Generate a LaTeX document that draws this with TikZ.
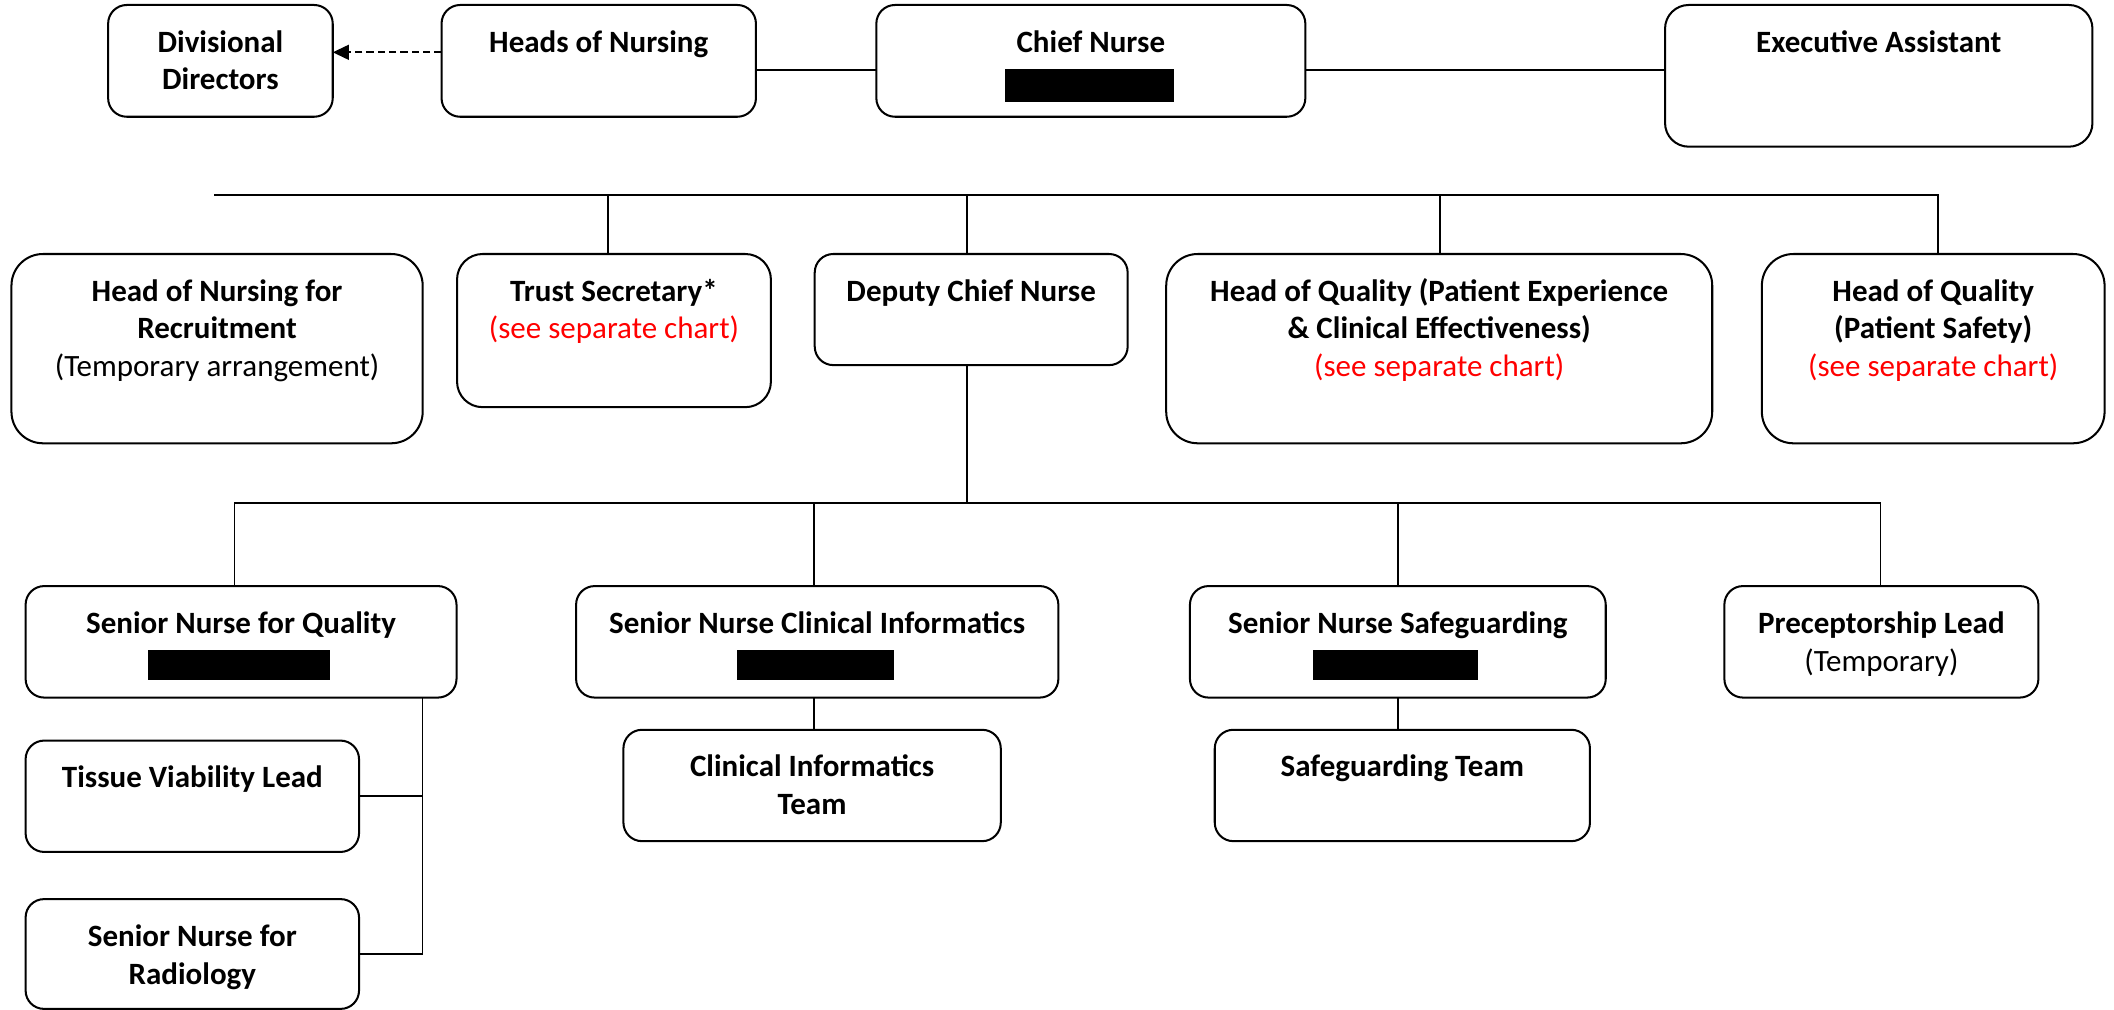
\documentclass[tikz,border=0pt]{standalone}
\usepackage{fontspec}
\setmainfont{Carlito}
\usetikzlibrary{arrows.meta,calc}
\definecolor{chartred}{RGB}{255,0,0}
\tikzset{
  obox/.style={draw=black, line width=1.5pt, fill=white, inner sep=0pt, outer sep=0pt},
  otext/.style={inner sep=0pt, outer sep=0pt, align=center, font=\fontsize{23}{28}\selectfont\bfseries},
  redact/.style={fill=black, draw=none, inner sep=0pt, outer sep=0pt},
  conn/.style={draw=black, line width=1.2pt},
  dotarrow/.style={draw=black, line width=1.6pt, dash pattern=on 5.4pt off 3pt, -{Triangle[length=12pt,width=11pt]}},
}
% name, x1, y1, x2, y2, text
\newcommand\orgbox[6]{%
  \pgfmathsetmacro\orgrr{0.1667*min(#4-#2,#5-#3)}%
  \node[obox, rounded corners=\orgrr pt, minimum width={#4-#2}, minimum height={#5-#3}, anchor=north west] (#1) at (#2,#3) {};
  \node[otext, anchor=north] (#1-t) at ([yshift=-15.4pt]#1.north) {\strut#6};
}
\newcommand\redbar[5]{%
  \node[redact, minimum width={#4-#2}, minimum height={#5-#3}, anchor=north west] (#1) at (#2,#3) {};
}
\newcommand\seechart{{\mdseries\color{chartred}(see separate chart)}}
\begin{document}
\begin{tikzpicture}[x=1pt,y=-1pt]
\useasboundingbox (0,0) rectangle (1568,749.1);
% top row
\orgbox{dd}{80.2}{3.7}{246.8}{86.6}{Divisional\\Directors}
\orgbox{hon}{327.5}{3.7}{560.7}{86.6}{Heads of Nursing}
\orgbox{cn}{650}{3.7}{968.2}{86.6}{Chief Nurse}
\redbar{cnr}{745.6}{51.2}{871}{75.4}
\orgbox{ea}{1235}{3.7}{1552}{108.8}{Executive Assistant}
% second row
\orgbox{hnr}{8.5}{188.4}{313.5}{328.8}{Head of Nursing for\\Recruitment\\{\mdseries(Temporary arrangement)}}
\orgbox{ts}{339}{188.4}{571.8}{302}{Trust Secretary*\\\seechart}
\orgbox{dcn}{604.3}{188.4}{836.4}{270.8}{Deputy Chief Nurse}
\orgbox{hqe}{865}{188.4}{1270}{328.8}{Head of Quality (Patient Experience\\\& Clinical Effectiveness)\\\seechart}
\orgbox{hqs}{1306.8}{188.4}{1561}{328.8}{Head of Quality\\(Patient Safety)\\\seechart}
% third row
\orgbox{snq}{19}{434.7}{338.6}{517.4}{Senior Nurse for Quality}
\redbar{snqr}{110}{482.2}{244.8}{504.2}
\orgbox{snci}{427.3}{434.7}{785}{517.4}{Senior Nurse Clinical Informatics}
\redbar{sncir}{546.7}{482.2}{663}{504.2}
\orgbox{sns}{882.6}{434.7}{1191}{517.4}{Senior Nurse Safeguarding}
\redbar{snsr}{973.8}{482.2}{1096.5}{504.2}
\orgbox{pl}{1279}{434.7}{1511.9}{517.4}{Preceptorship Lead\\{\mdseries(Temporary)}}
% fourth row
\orgbox{cit}{462.4}{541.3}{742.3}{623.9}{Clinical Informatics\\Team}
\orgbox{sgt}{901}{541.3}{1179.3}{623.9}{Safeguarding Team}
\orgbox{tvl}{19}{549.3}{266.3}{631.9}{Tissue Viability Lead}
\orgbox{snr}{19}{666.9}{266.3}{748.3}{Senior Nurse for\\Radiology}
% connector coordinates
\coordinate (yarrow) at (0,38.8);
\coordinate (ytop) at (0,51.7);
\coordinate (bus1) at (159,144.7);
\coordinate (bus2) at (174,373.3);
\coordinate (qx) at (313.5,0);
% top row connectors
\draw[dotarrow] (hon.west |- yarrow) -- (dd.east |- yarrow);
\draw[conn] (hon.east |- ytop) -- (cn.west |- ytop);
\draw[conn] (cn.east |- ytop) -- (ea.west |- ytop);
% first bus
\coordinate (tsx) at ([xshift=-4.4pt]ts.north);
\coordinate (dcnx) at ([xshift=-3pt]dcn.north);
\coordinate (hqex) at ([xshift=0.5pt]hqe.north);
\coordinate (hqsx) at ([xshift=3.5pt]hqs.north);
\draw[conn] (bus1) -- (hqsx |- bus1) -- (hqsx);
\draw[conn] (tsx |- bus1) -- (tsx);
\draw[conn] (dcnx |- bus1) -- (dcnx);
\draw[conn] (hqex |- bus1) -- (hqex);
% deputy to second bus
\coordinate (snqx) at (snq.north -| bus2);
\coordinate (sncix) at ([xshift=-2.3pt]snci.north);
\coordinate (snsx) at (sns.north);
\coordinate (plx) at ([xshift=-0.8pt]pl.north);
\draw[conn] (dcnx |- dcn.south) -- (dcnx |- bus2);
\draw[conn] (snqx) -- (bus2) -- (plx |- bus2) -- (plx);
\draw[conn] (sncix |- bus2) -- (sncix);
\draw[conn] (snsx |- bus2) -- (snsx);
% teams
\draw[conn] (sncix |- snci.south) -- (sncix |- cit.north);
\draw[conn] (snsx |- sns.south) -- (snsx |- sgt.north);
% quality branch
\draw[conn] (qx |- snq.south) -- (qx |- snr.east) -- (snr.east);
\draw[conn] (tvl.east) -- (qx |- tvl.east);
\end{tikzpicture}
\end{document}
